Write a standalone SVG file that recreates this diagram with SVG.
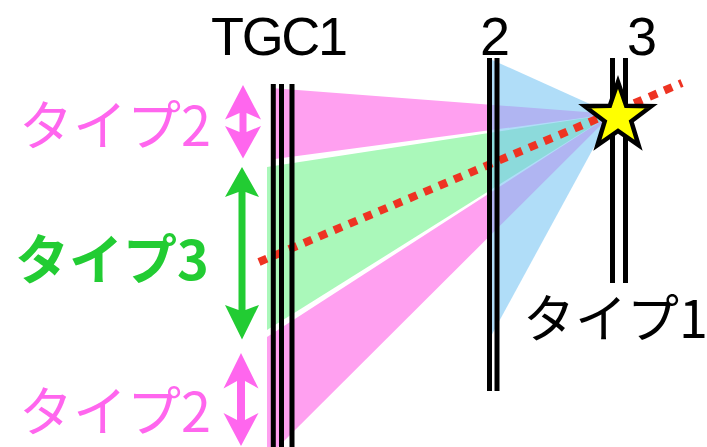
<svg xmlns="http://www.w3.org/2000/svg" width="707" height="447" viewBox="0 0 707 447">
<style>
.lat{font-family:"Liberation Sans",Arial,sans-serif;font-size:54px;fill:#000}
.jp{font-family:"Noto Sans CJK JP","Noto Sans",sans-serif;font-size:54px}
.pinkT{fill:#FF66EE}
.greenT{fill:#22CC33;font-weight:bold}
.blk{fill:#000}
.wire{stroke:#000;stroke-width:5;fill:none}
</style>
<rect width="707" height="447" fill="#fff"/>
<g id="fans">
<polygon points="271,88 612,114 271,159.5" fill="#FFA0F0"/>
<polygon points="267,167 612,114 267,330" fill="#AAF8BA"/>
<polygon points="267,337 612,114 267,458" fill="#FFA0F0"/>
<polygon points="490,59 612,114 490,338" fill="#77C4F3" fill-opacity="0.58"/>
</g>
<g id="connectors">
<line x1="259" y1="262" x2="682" y2="83" stroke="#EE3322" stroke-width="8" stroke-dasharray="8.5 7.8"/>
</g>
<g id="TGC1">
<line class="wire" x1="273.3" y1="84" x2="273.3" y2="447"/>
<line class="wire" x1="281.5" y1="84" x2="281.5" y2="447"/>
<line class="wire" x1="292" y1="84" x2="292" y2="447"/>
<text class="lat" x="211" y="55" textLength="137">TGC1</text>
</g>
<g id="chamber2">
<line class="wire" x1="489.5" y1="58" x2="489.5" y2="391"/>
<line class="wire" x1="497" y1="58" x2="497" y2="391"/>
<text class="lat" x="495" y="55" text-anchor="middle">2</text>
</g>
<g id="chamber3">
<line class="wire" x1="612.5" y1="58" x2="612.5" y2="283"/>
<line class="wire" x1="625.5" y1="58" x2="625.5" y2="283"/>
<text class="lat" x="642" y="55" text-anchor="middle">3</text>
</g>
<g id="star">
<polygon points="618,82 626.2,105.7 651.3,106.2 631.3,121.3 638.6,145.3 618,131 597.4,145.3 604.7,121.3 584.7,106.2 609.8,105.7" fill="#FFFF00" stroke="#000" stroke-width="4.5" stroke-linejoin="miter"/>
</g>
<g id="type2-upper">
<path class="pinkT" d="M243,85 L261,119.5 L246.5,113 L246.5,132 L261,126 L243,158.5 L225,126 L239.5,132 L239.5,113 L225,119.5 Z"/>
<text class="jp pinkT" x="19" y="146">タイプ2</text>
</g>
<g id="type3">
<path class="greenT" d="M242,167 L259,197 L245.5,192 L245.5,310 L259,305 L242,339.5 L225,305 L238.5,310 L238.5,192 L225,197 Z"/>
<text class="jp greenT" x="15" y="280">タイプ3</text>
</g>
<g id="type2-lower">
<path class="pinkT" d="M241,353 L258.5,388.5 L245,381 L245,420 L258.5,413 L241,446 L223.5,413 L237,420 L237,381 L223.5,388.5 Z"/>
<text class="jp pinkT" x="19" y="432" font-size="53">タイプ2</text>
</g>
<g id="type1">
<text class="jp blk" x="523" y="338" style="font-size:52px">タイプ1</text>
</g>
</svg>
